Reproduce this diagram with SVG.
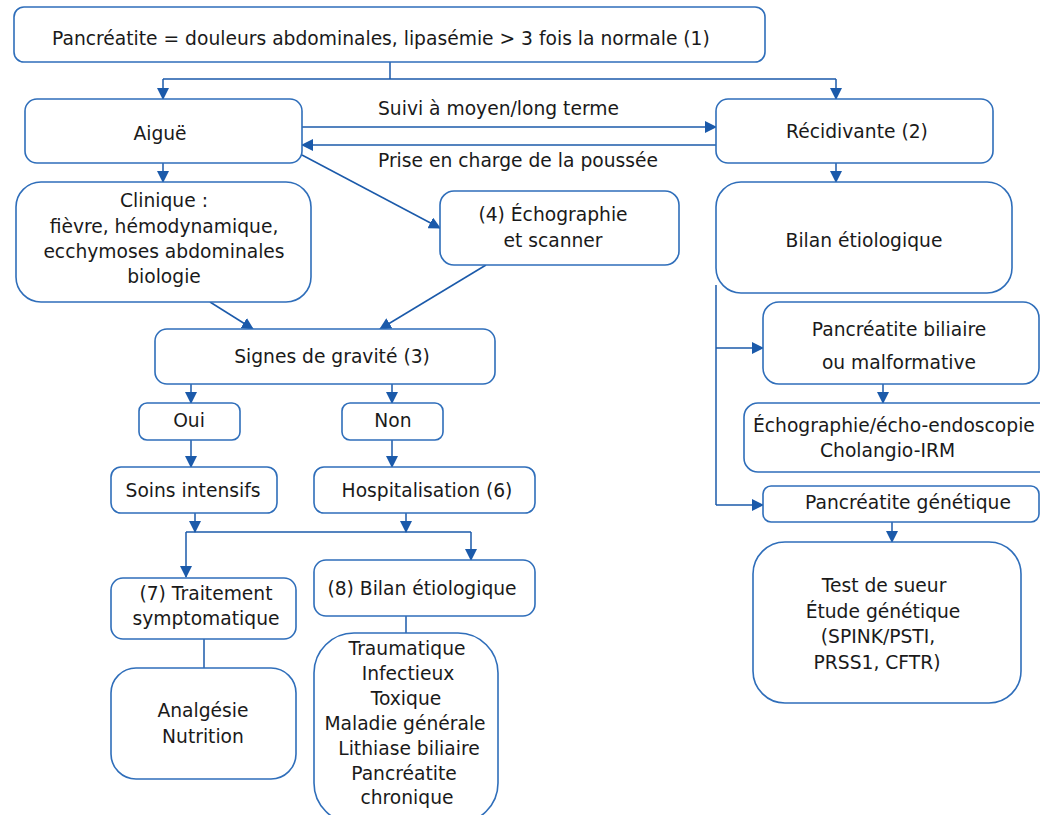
<svg xmlns="http://www.w3.org/2000/svg" width="1040" height="815" viewBox="0 0 1040 815">
<defs>
<marker id="ah" markerUnits="userSpaceOnUse" markerWidth="12" markerHeight="12" viewBox="0 0 12 12" refX="11" refY="6" orient="auto">
<path d="M0,0 L12,6 L0,12 Z" fill="#1B5AAA"/>
</marker>
<style>
.b{fill:#fff;stroke:#2F6EBA;stroke-width:1.6}
.t{font-family:"DejaVu Sans","Liberation Sans",sans-serif;font-size:18.7px;fill:#1a1a1a;text-anchor:middle}
.s{text-anchor:start}
.c{fill:none;stroke:#1B5AAA;stroke-width:1.5}
.a{marker-end:url(#ah)}
</style>
</defs>
<rect width="1040" height="815" fill="#fff"/>
<g id="connectors">
<path class="c" d="M390,62 V79 M163,79 H836"/>
<path class="c a" d="M163,79 V99"/>
<path class="c a" d="M836,79 V99"/>
<path class="c a" d="M302,127 H716"/>
<path class="c a" d="M716,145 H302"/>
<path class="c a" d="M302,155 L440,228"/>
<path class="c a" d="M163,163 V182"/>
<path class="c a" d="M836,163 V182"/>
<path class="c a" d="M210,302 L253,329"/>
<path class="c a" d="M486,265 L380,329"/>
<path class="c a" d="M191,384 V403"/>
<path class="c a" d="M392,384 V403"/>
<path class="c a" d="M191,440 V467"/>
<path class="c a" d="M392,440 V467"/>
<path class="c a" d="M195,513 V532"/>
<path class="c a" d="M406,513 V532"/>
<path class="c" d="M186,532 H471"/>
<path class="c a" d="M186,532 V577"/>
<path class="c a" d="M471,532 V560"/>
<path class="c" d="M406,616 V633"/>
<path class="c" d="M204,639 V668"/>
<path class="c" d="M716,285 V505"/>
<path class="c a" d="M716,348 H763"/>
<path class="c a" d="M716,505 H763"/>
<path class="c a" d="M883,384 V403"/>
<path class="c a" d="M892,522 V542"/>
</g>
<g id="n-top"><rect class="b" x="14" y="7" width="751" height="55" rx="10"/><text class="t s" x="52" y="45">Pancréatite = douleurs abdominales, lipasémie &gt; 3 fois la normale (1)</text></g>
<g id="n-aigue"><rect class="b" x="25" y="99" width="277" height="64" rx="12"/><text class="t" x="160" y="140">Aiguë</text></g>
<g id="n-recid"><rect class="b" x="716" y="99" width="277" height="64" rx="12"/><text class="t" x="857" y="138">Récidivante (2)</text></g>
<g id="l-suivi"><text class="t s" x="378" y="115">Suivi à moyen/long terme</text></g>
<g id="l-prise"><text class="t s" x="378" y="167">Prise en charge de la poussée</text></g>
<g id="n-clinique"><rect class="b" x="16" y="182" width="295" height="120" rx="25"/>
<text class="t" x="164" y="207">Clinique :</text>
<text class="t" x="164" y="233">fièvre, hémodynamique,</text>
<text class="t" x="164" y="258">ecchymoses abdominales</text>
<text class="t" x="164" y="283">biologie</text></g>
<g id="n-echo"><rect class="b" x="440" y="191" width="239" height="74" rx="14"/>
<text class="t" x="553" y="221">(4) Échographie</text>
<text class="t" x="553" y="247">et scanner</text></g>
<g id="n-bilanr"><rect class="b" x="716" y="182" width="296" height="111" rx="25"/><text class="t" x="864" y="247">Bilan étiologique</text></g>
<g id="n-signes"><rect class="b" x="155" y="329" width="340" height="55" rx="12"/><text class="t" x="332" y="363">Signes de gravité (3)</text></g>
<g id="n-oui"><rect class="b" x="139" y="403" width="101" height="37" rx="8"/><text class="t" x="189" y="427">Oui</text></g>
<g id="n-non"><rect class="b" x="342" y="403" width="101" height="37" rx="8"/><text class="t" x="393" y="427">Non</text></g>
<g id="n-soins"><rect class="b" x="111" y="467" width="166" height="46" rx="10"/><text class="t" x="193" y="497">Soins intensifs</text></g>
<g id="n-hosp"><rect class="b" x="314" y="467" width="221" height="46" rx="10"/><text class="t" x="427" y="497">Hospitalisation (6)</text></g>
<g id="n-trait"><rect class="b" x="111" y="578" width="185" height="61" rx="12"/>
<text class="t" x="206" y="600">(7) Traitement</text>
<text class="t" x="206" y="625">symptomatique</text></g>
<g id="n-bilan8"><rect class="b" x="314" y="560" width="221" height="56" rx="12"/><text class="t" x="422" y="595">(8) Bilan étiologique</text></g>
<g id="n-analg"><rect class="b" x="111" y="668" width="185" height="111" rx="25"/>
<text class="t" x="203" y="717">Analgésie</text>
<text class="t" x="203" y="743">Nutrition</text></g>
<g id="n-list"><rect class="b" x="314" y="633" width="184" height="190" rx="40"/>
<text class="t" x="407" y="655">Traumatique</text>
<text class="t" x="408" y="680">Infectieux</text>
<text class="t" x="406" y="705">Toxique</text>
<text class="t" x="405" y="730">Maladie générale</text>
<text class="t" x="409" y="755">Lithiase biliaire</text>
<text class="t" x="404" y="780">Pancréatite</text>
<text class="t" x="407" y="804">chronique</text></g>
<g id="n-biliaire"><rect class="b" x="763" y="302" width="276" height="82" rx="16"/>
<text class="t" x="899" y="336">Pancréatite biliaire</text>
<text class="t" x="899" y="369">ou malformative</text></g>
<g id="n-echoendo"><rect class="b" x="744" y="403" width="310" height="69" rx="14"/>
<text class="t s" x="753" y="432">Échographie/écho-endoscopie</text>
<text class="t s" x="820" y="457">Cholangio-IRM</text></g>
<g id="n-genet"><rect class="b" x="763" y="486" width="276" height="36" rx="8"/><text class="t" x="908" y="509">Pancréatite génétique</text></g>
<g id="n-test"><rect class="b" x="753" y="542" width="268" height="161" rx="32"/>
<text class="t" x="884" y="592">Test de sueur</text>
<text class="t" x="883" y="618">Étude génétique</text>
<text class="t" x="878" y="643">(SPINK/PSTI,</text>
<text class="t" x="877" y="669">PRSS1, CFTR)</text></g>
</svg>
